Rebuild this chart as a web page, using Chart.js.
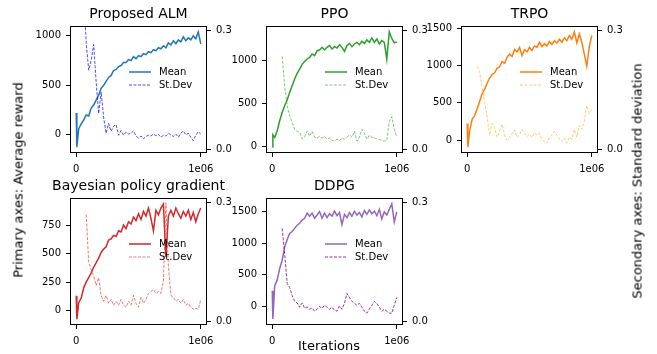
<!DOCTYPE html>
<html>
<head>
<meta charset="utf-8">
<script src="https://cdn.jsdelivr.net/npm/chart.js@4.4.1/dist/chart.umd.min.js"></script>
<style>
  html, body { margin: 0; padding: 0; background: #fff; }
  body { width: 657px; height: 354px; position: relative; overflow: hidden; font-family: 'DejaVu Sans', sans-serif; }
  canvas { position: absolute; }
  .lbl { position: absolute; font-size: 13px; line-height: 1; white-space: nowrap; color: #000; transform: translate(-50%, -50%); }
  .rot { transform: translate(-50%, -50%) rotate(-90deg); }
</style>
</head>
<body>
<canvas id="c0" width="237" height="173" style="left:20px;top:2px"></canvas>
<canvas id="c1" width="237" height="173" style="left:216px;top:2px"></canvas>
<canvas id="c2" width="237" height="173" style="left:411px;top:2px"></canvas>
<canvas id="c3" width="237" height="173" style="left:20px;top:174px"></canvas>
<canvas id="c4" width="237" height="173" style="left:216px;top:174px"></canvas>
<div class="lbl rot" style="left:18px;top:180px">Primary axes: Average reward</div>
<div class="lbl rot" style="left:637px;top:181px">Secondary axes: Standard deviation</div>
<div class="lbl" style="left:329px;top:345px">Iterations</div>
<script>
// iterations, in thousands
const iterK = [0, 5, 20, 40, 60, 80, 100, 120, 140, 160, 180, 200, 220, 240, 260, 280, 300,
  320, 340, 360, 380, 400, 420, 440, 460, 480, 500, 520, 540, 560, 580, 600, 620, 640, 660,
  680, 700, 720, 740, 760, 780, 800, 820, 840, 860, 880, 900, 920, 940, 960, 980, 1000];

const titles = ['Proposed ALM', 'PPO', 'TRPO', 'Bayesian policy gradient', 'DDPG'];

const meanALM = [220, -125, 60, 110, 150, 200, 190, 270, 300, 350, 400, 470, 500, 540, 580, 600, 650,
  660, 690, 700, 730, 730, 760, 750, 790, 770, 800, 790, 820, 810, 840, 830, 860, 850, 880,
  870, 900, 880, 930, 910, 950, 920, 960, 940, 990, 950, 980, 960, 1000, 970, 1040, 920];
const sdALM = [null, null, null, null, 0.40, 0.27, 0.20, 0.225, 0.265, 0.17, 0.09, 0.145, 0.08, 0.04, 0.065, 0.045, 0.058,
  0.062, 0.035, 0.047, 0.035, 0.043, 0.038, 0.04, 0.046, 0.033, 0.028, 0.033, 0.026, 0.032, 0.035, 0.033, 0.038, 0.034, 0.037,
  0.03, 0.035, 0.033, 0.04, 0.036, 0.032, 0.038, 0.03, 0.04, 0.046, 0.036, 0.04, 0.03, 0.021, 0.035, 0.044, 0.038];

const meanPPO = [-10, 130, 100, 178, 295, 391, 469, 535, 624, 700, 779, 845, 895, 946, 984, 1012, 1031,
  1070, 1050, 1108, 1116, 1147, 1116, 1147, 1167, 1128, 1155, 1140, 1178, 1147, 1100, 1167, 1194, 1155, 1186,
  1205, 1178, 1217, 1194, 1233, 1205, 1256, 1205, 1244, 1186, 1225, 1205, 1010, 1328, 1250, 1200, 1210];
const sdPPO = [null, null, null, null, null, 0.235, 0.16, 0.11, 0.085, 0.068, 0.05, 0.045, 0.042, 0.026, 0.03, 0.046, 0.033,
  0.045, 0.03, 0.028, 0.032, 0.028, 0.032, 0.025, 0.028, 0.022, 0.02, 0.025, 0.022, 0.028, 0.025, 0.03, 0.036, 0.03, 0.045,
  0.02, 0.03, 0.05, 0.04, 0.025, 0.035, 0.03, 0.028, 0.026, 0.024, 0.022, 0.02, 0.022, 0.07, 0.082, 0.05, 0.03];

const meanTRPO = [220, -95, 130, 280, 330, 420, 520, 620, 680, 760, 830, 880, 900, 960, 980, 1050, 1030,
  1110, 1150, 1120, 1210, 1180, 1240, 1130, 1210, 1180, 1240, 1200, 1260, 1240, 1310, 1250, 1290, 1260, 1320,
  1280, 1330, 1300, 1350, 1310, 1370, 1330, 1400, 1350, 1450, 1300, 1420, 1310, 1150, 990, 1250, 1400];
const sdTRPO = [null, null, null, null, null, 0.21, 0.195, 0.155, 0.12, 0.08, 0.035, 0.065, 0.055, 0.03, 0.045, 0.063, 0.035,
  0.022, 0.03, 0.04, 0.048, 0.03, 0.036, 0.05, 0.04, 0.032, 0.038, 0.03, 0.042, 0.035, 0.04, 0.025, 0.018, 0.015, 0.03,
  0.036, 0.045, 0.035, 0.025, 0.02, 0.028, 0.015, 0.03, 0.025, 0.05, 0.03, 0.06, 0.05, 0.07, 0.11, 0.09, 0.1];

const meanBPG = [130, -75, 70, 110, 200, 250, 290, 330, 380, 420, 460, 510, 540, 560, 620, 630, 660,
  650, 700, 690, 750, 720, 780, 760, 820, 790, 850, 800, 870, 830, 900, 810, 700, 880, 840,
  900, 935, 470, 830, 880, 830, 900, 850, 810, 870, 830, 880, 800, 860, 780, 850, 900];
const sdBPG = [null, null, null, null, null, 0.27, 0.15, 0.13, 0.115, 0.09, 0.11, 0.065, 0.05, 0.065, 0.045, 0.055, 0.04,
  0.05, 0.04, 0.055, 0.04, 0.035, 0.05, 0.04, 0.065, 0.045, 0.035, 0.06, 0.045, 0.055, 0.07, 0.075, 0.08, 0.07, 0.075,
  0.07, 0.10, 0.30, 0.14, 0.065, 0.06, 0.05, 0.055, 0.045, 0.055, 0.04, 0.045, 0.035, 0.03, 0.032, 0.03, 0.055];

const meanDDPG = [250, -195, 330, 420, 600, 730, 940, 1050, 1150, 1180, 1230, 1280, 1310, 1360, 1390, 1470, 1420,
  1470, 1390, 1440, 1495, 1390, 1470, 1400, 1460, 1420, 1500, 1430, 1480, 1290, 1450, 1400, 1480, 1420, 1500,
  1440, 1480, 1410, 1510, 1450, 1520, 1460, 1500, 1430, 1530, 1380, 1490, 1440, 1530, 1615, 1330, 1490];
const sdDDPG = [null, null, null, null, null, 0.235, 0.17, 0.095, 0.085, 0.065, 0.05, 0.046, 0.035, 0.046, 0.033, 0.036, 0.03,
  0.033, 0.025, 0.03, 0.037, 0.032, 0.04, 0.035, 0.03, 0.035, 0.028, 0.025, 0.038, 0.03, 0.045, 0.07, 0.06, 0.05, 0.045,
  0.04, 0.045, 0.035, 0.025, 0.02, 0.03, 0.04, 0.05, 0.045, 0.035, 0.025, 0.03, 0.025, 0.02, 0.02, 0.04, 0.06];

// axis ticks
const ticksALM = [0, 500, 1000];
const ticksPPO = [0, 500, 1000];
const ticksTRPO = [0, 500, 1000, 1500];
const ticksBPG = [0, 250, 500, 750];
const ticksDDPG = [0, 500, 1000, 1500];
const sdTicks = [0, 0.3];
const iterTicks = [0, 1000000];
const iterTickLabels = ['0', '1e06'];

const panels = [
  { mean: meanALM, sd: sdALM, ticks: ticksALM, range: [-185, 1100], c: '#1f77b4', sdc: 'rgba(0,0,255,0.7)' },
  { mean: meanPPO, sd: sdPPO, ticks: ticksPPO, range: [-80, 1395], c: '#2ca02c', sdc: 'rgba(44,160,44,0.6)' },
  { mean: meanTRPO, sd: sdTRPO, ticks: ticksTRPO, range: [-174, 1527], c: '#ff7f0e', sdc: 'rgba(255,165,0,0.55)' },
  { mean: meanBPG, sd: sdBPG, ticks: ticksBPG, range: [-126, 988], c: '#d62728', sdc: 'rgba(235,30,30,0.6)' },
  { mean: meanDDPG, sd: sdDDPG, ticks: ticksDDPG, range: [-289, 1708], c: '#9467bd', sdc: 'rgba(128,0,128,0.8)' }
];

Chart.defaults.font.family = "'DejaVu Sans', sans-serif";
Chart.defaults.font.size = 10;
Chart.defaults.color = '#000';

// frame, title and legend, placed like matplotlib does
const decor = {
  id: 'decor',
  afterDatasetsDraw(chart, args, opts) {
    const { ctx, chartArea: a } = chart;
    ctx.save();
    ctx.strokeStyle = '#000';
    ctx.lineWidth = 1;
    ctx.strokeRect(a.left + 0.5, a.top + 0.5, a.right - a.left - 1, a.bottom - a.top - 1);

    ctx.fillStyle = '#000';
    ctx.font = "14px 'DejaVu Sans'";
    ctx.textAlign = 'center';
    ctx.textBaseline = 'middle';
    ctx.fillText(opts.title, (a.left + a.right) / 2, a.top - 11.5);

    ctx.font = "10px 'DejaVu Sans'";
    ctx.textAlign = 'left';
    chart.data.datasets.forEach((ds, i) => {
      const y = a.top + 46 + i * 13;
      ctx.strokeStyle = ds.borderColor;
      ctx.lineWidth = ds.borderWidth;
      ctx.setLineDash(ds.borderDash || []);
      ctx.beginPath();
      ctx.moveTo(a.left + 59, y);
      ctx.lineTo(a.left + 81, y);
      ctx.stroke();
      ctx.setLineDash([]);
      ctx.fillText(ds.label, a.left + 89, y);
    });
    ctx.restore();
  }
};

const tickGrid = { display: true, drawOnChartArea: false, drawTicks: true, tickLength: 4, color: '#000', lineWidth: 1 };

panels.forEach((p, i) => {
  new Chart(document.getElementById('c' + i), {
    type: 'line',
    data: {
      labels: iterK.map(k => k * 1000),
      datasets: [
        { label: 'Mean', data: p.mean, yAxisID: 'y', borderColor: p.c, borderWidth: 1.5,
          pointRadius: 0, tension: 0, order: 1 },
        { label: 'St.Dev', data: p.sd, yAxisID: 'y2', borderColor: p.sdc, borderWidth: 1,
          borderDash: [3, 1.5], pointRadius: 0, tension: 0, order: 0 }
      ]
    },
    options: {
      responsive: false,
      animation: false,
      layout: { padding: { top: 24, left: 0, right: 0, bottom: 0 } },
      scales: {
        x: {
          type: 'linear', min: -50000, max: 1050000,
          afterBuildTicks: s => { s.ticks = iterTicks.map(v => ({ value: v })); },
          afterFit: s => { s.height = 22; },
          ticks: { callback: (v, idx) => iterTickLabels[idx], padding: 6, maxRotation: 0, autoSkip: false },
          grid: tickGrid,
          border: { display: false }
        },
        y: {
          position: 'left', min: p.range[0], max: p.range[1],
          afterBuildTicks: s => { s.ticks = p.ticks.map(v => ({ value: v })); },
          afterFit: s => { s.width = 50; },
          ticks: { callback: v => String(v), padding: 5 },
          grid: tickGrid,
          border: { display: false }
        },
        y2: {
          position: 'right', min: -0.01, max: 0.312,
          afterBuildTicks: s => { s.ticks = sdTicks.map(v => ({ value: v })); },
          afterFit: s => { s.width = 50; },
          ticks: { callback: v => v.toFixed(1), padding: 5 },
          grid: tickGrid,
          border: { display: false }
        }
      },
      plugins: {
        legend: { display: false },
        tooltip: { enabled: false },
        decor: { title: titles[i] }
      }
    },
    plugins: [decor]
  });
});
</script>
</body>
</html>
